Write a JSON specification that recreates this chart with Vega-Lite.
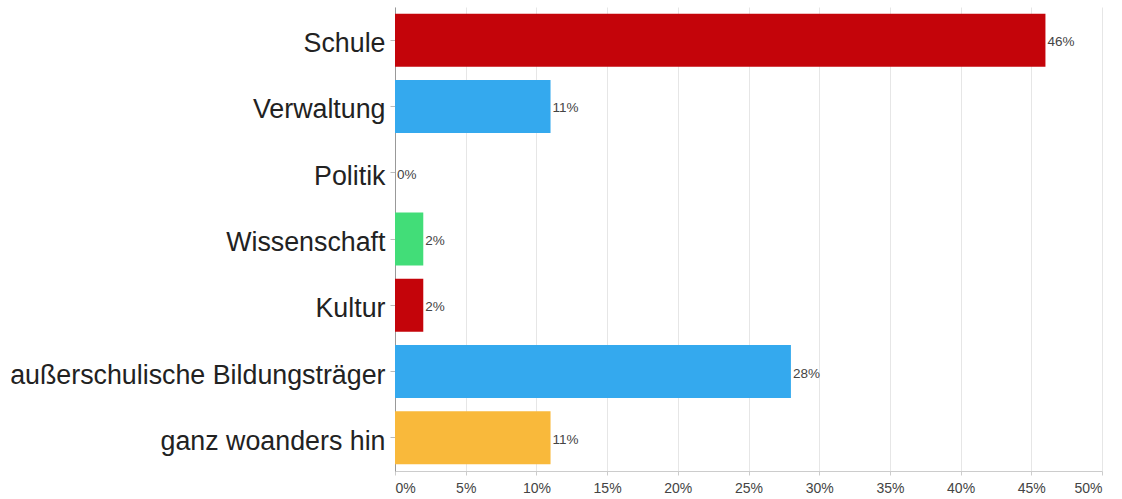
{
  "$schema": "https://vega.github.io/schema/vega-lite/v6.json",
  "autosize": "none",
  "width": 707,
  "height": 464,
  "padding": {"left": 395, "top": 7, "right": 20, "bottom": 28},
  "background": "white",
  "data": {
    "values": [
      {"kategorie": "Schule", "anteil": 0.46, "farbe": "rot"},
      {"kategorie": "Verwaltung", "anteil": 0.11, "farbe": "blau"},
      {"kategorie": "Politik", "anteil": 0, "farbe": "gelb"},
      {"kategorie": "Wissenschaft", "anteil": 0.02, "farbe": "gruen"},
      {"kategorie": "Kultur", "anteil": 0.02, "farbe": "rot"},
      {"kategorie": "außerschulische Bildungsträger", "anteil": 0.28, "farbe": "blau"},
      {"kategorie": "ganz woanders hin", "anteil": 0.11, "farbe": "gelb"}
    ]
  },
  "config": {
    "view": {"stroke": null},
    "font": "Liberation Sans"
  },
  "encoding": {
    "y": {
      "field": "kategorie",
      "type": "nominal",
      "sort": null,
      "scale": {"paddingInner": 0.2, "paddingOuter": 0.1},
      "axis": {
        "title": null,
        "labelFontSize": 26.8,
        "labelColor": "#222222",
        "labelPadding": 5,
        "labelOffset": 4,
        "tickSize": 5,
        "tickColor": "#bbbbbb",
        "domainColor": "#999999",
        "labelLimit": 400,
        "grid": false
      }
    },
    "x": {
      "field": "anteil",
      "type": "quantitative",
      "scale": {"domain": [0, 0.5], "nice": false},
      "axis": {
        "title": null,
        "values": [0, 0.05, 0.1, 0.15, 0.2, 0.25, 0.3, 0.35, 0.4, 0.45, 0.5],
        "format": ".0%",
        "labelFontSize": 14,
        "labelColor": "#444444",
        "labelPadding": 6,
        "tickSize": 4,
        "tickColor": "#cccccc",
        "domainColor": "#cccccc",
        "grid": true,
        "gridColor": "#e6e6e6",
        "gridWidth": 1
      }
    }
  },
  "layer": [
    {
      "mark": {"type": "bar", "strokeWidth": 1, "strokeOpacity": 0.6},
      "encoding": {
        "color": {
          "field": "farbe",
          "type": "nominal",
          "scale": {"domain": ["rot", "blau", "gruen", "gelb"], "range": ["#C4040A", "#34A9EE", "#42DD78", "#F9B93B"]},
          "legend": null
        }
      }
    },
    {
      "mark": {"type": "text", "align": "left", "baseline": "middle", "dx": 2, "dy": 2, "fontSize": 13.5, "color": "#444444"},
      "encoding": {
        "text": {"field": "anteil", "type": "quantitative", "format": ".0%"}
      }
    }
  ]
}
